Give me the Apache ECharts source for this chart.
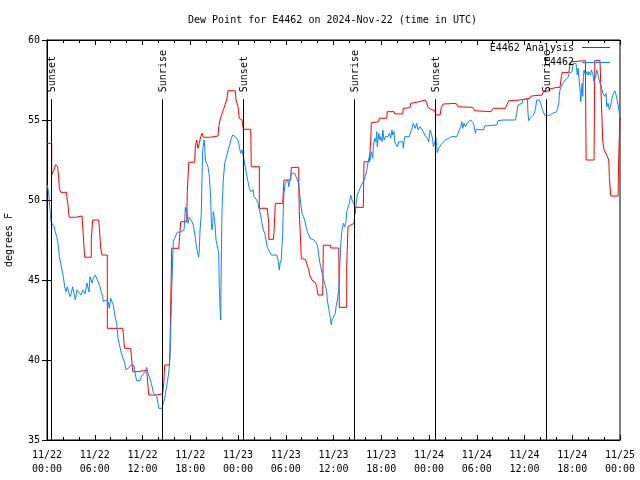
<!DOCTYPE html>
<html>
<head>
<meta charset="utf-8">
<script src="https://cdn.jsdelivr.net/npm/echarts@6/dist/echarts.min.js"></script>
<style>html,body{margin:0;padding:0;background:#fff;}#c{width:640px;height:480px;}</style>
</head>
<body>
<div id="c"></div>
<script>
var titleText = 'Dew Point for E4462 on 2024-Nov-22 (time in UTC)';
var xTickLabels = ['11/22\n00:00','11/22\n06:00','11/22\n12:00','11/22\n18:00','11/23\n00:00','11/23\n06:00','11/23\n12:00','11/23\n18:00','11/24\n00:00','11/24\n06:00','11/24\n12:00','11/24\n18:00','11/25\n00:00'];
var seriesNames = ['E4462 Analysis', 'E4462'];
var sunHours = [0.5, 14.45, 24.63, 38.58, 48.76, 62.7];
var sunLabels = ['Sunset','Sunrise','Sunset','Sunrise','Sunset','Sunrise'];

// hours since 11/22 00:00 UTC, dew point (F)
var analysisData = [[0,53.54],[0.59,53.54],[0.59,51.56],[0.72,51.67],[0.88,51.88],[1.09,52.21],[1.22,52.25],[1.34,52.08],[1.47,51.36],[1.55,50.73],[1.72,50.48],[2.48,50.48],[2.48,50.21],[2.64,49.69],[2.73,49.17],[2.80,48.92],[3.61,48.92],[3.61,49.0],[4.40,49.0],[4.49,48.33],[4.65,47.04],[4.74,46.42],[5.57,46.42],[5.57,47.56],[5.74,48.75],[6.50,48.75],[6.57,48.33],[6.75,46.98],[6.91,46.56],[7.58,46.56],[7.58,41.98],[9.51,41.98],[9.59,41.67],[9.68,41.04],[9.76,40.73],[10.52,40.73],[10.59,40.31],[10.77,39.27],[11.35,39.27],[11.52,39.36],[12.53,39.36],[12.60,38.96],[12.78,37.81],[13.70,37.81],[14.54,37.88],[14.61,37.88],[14.70,38.75],[14.79,39.69],[15.37,39.69],[15.46,40.67],[15.54,43.33],[15.67,46.98],[16.55,46.98],[16.62,47.39],[16.80,48.64],[17.55,48.64],[17.63,50.52],[17.81,52.36],[18.56,52.36],[18.64,53.33],[18.81,53.75],[18.97,53.23],[19.14,53.54],[19.31,53.96],[19.48,54.17],[19.64,53.92],[20.48,53.92],[20.65,53.96],[21.49,54.0],[21.58,54.58],[21.74,55.0],[21.99,55.11],[22.15,55.63],[22.37,55.94],[22.58,56.25],[22.75,56.83],[23.66,56.83],[23.75,56.25],[24.00,55.83],[24.16,55.11],[24.50,55.0],[24.67,54.42],[25.60,54.42],[25.67,52.08],[26.68,52.08],[26.68,49.48],[27.68,49.48],[27.86,48.54],[27.86,47.54],[28.44,47.54],[28.52,47.96],[28.69,49.79],[29.62,49.79],[29.69,50.52],[29.78,51.25],[30.62,51.25],[30.70,52.04],[31.63,52.04],[31.63,51.25],[31.70,49.27],[31.88,47.29],[31.96,46.33],[32.46,46.29],[32.63,46.04],[32.89,45.63],[33.05,45.25],[33.30,45.0],[33.72,44.83],[33.89,44.58],[34.05,44.06],[34.64,44.06],[34.72,47.17],[35.65,47.17],[35.65,47.0],[36.66,47.0],[36.73,43.29],[37.66,43.29],[37.66,45.83],[37.82,48.33],[38.58,48.54],[38.74,49.54],[39.75,49.54],[39.83,52.39],[40.50,52.39],[40.68,53.75],[40.75,54.83],[41.68,54.89],[41.75,55.11],[42.69,55.11],[42.76,55.52],[43.60,55.52],[43.69,55.38],[44.70,55.38],[44.77,55.73],[45.61,55.77],[45.70,56.04],[46.71,56.14],[46.87,56.25],[47.54,56.25],[47.72,56.04],[47.88,55.79],[48.22,55.67],[48.72,55.58],[48.88,55.31],[49.39,55.31],[49.55,55.79],[49.80,56.0],[51.40,56.04],[51.65,55.83],[53.49,55.79],[53.74,55.58],[55.83,55.52],[56.08,55.73],[57.59,55.73],[58.02,56.21],[58.85,56.21],[59.02,56.29],[60.70,56.36],[60.86,56.5],[62.20,56.56],[62.37,56.77],[62.87,56.77],[63.05,56.92],[64.05,57.04],[64.46,57.04],[64.63,57.71],[64.72,57.96],[65.56,57.96],[65.72,58.44],[65.89,58.64],[66.14,58.71],[67.65,58.71],[67.74,52.5],[68.74,52.5],[68.83,58.71],[69.49,58.71],[69.58,57.29],[69.83,53.75],[69.99,53.13],[70.33,52.81],[70.59,52.5],[70.66,51.46],[70.84,50.25],[71.76,50.25],[71.84,52.71],[72.0,55.21]];

var obsData = [[0.04,50.94],[0.21,50.42],[0.38,49.38],[0.50,48.64],[0.72,48.54],[0.88,48.33],[1.04,48.02],[1.22,47.71],[1.38,47.29],[1.55,46.46],[1.72,46.04],[1.88,45.63],[2.05,45.21],[2.22,44.58],[2.39,44.27],[2.55,44.58],[2.73,44.27],[2.89,43.96],[3.05,44.17],[3.23,44.58],[3.39,44.17],[3.56,43.75],[3.77,44.38],[4.02,44.5],[4.27,44.06],[4.52,44.38],[4.78,44.13],[5.03,44.81],[5.28,44.25],[5.40,45.21],[5.65,44.81],[5.82,45.13],[6.07,45.31],[6.25,45.19],[6.50,44.81],[6.66,44.58],[6.82,44.25],[7.00,43.96],[7.07,43.64],[7.41,43.75],[7.70,43.63],[7.83,43.23],[8.00,43.86],[8.17,43.96],[8.33,43.44],[8.51,42.81],[8.76,42.29],[8.92,41.36],[9.17,41.25],[9.34,40.42],[9.59,40.31],[9.76,39.83],[9.93,39.38],[10.18,39.42],[10.34,39.54],[10.52,39.67],[10.93,39.67],[11.10,39.06],[11.27,38.71],[11.69,38.71],[11.85,38.96],[12.10,39.06],[12.35,39.27],[12.53,39.54],[12.69,39.17],[12.86,38.96],[13.11,38.54],[13.36,37.98],[13.61,37.98],[13.79,37.71],[13.95,37.29],[14.04,36.98],[14.45,36.98],[14.61,37.29],[14.79,37.61],[14.95,38.13],[15.12,38.64],[15.29,39.17],[15.46,40.21],[15.62,43.33],[15.71,45.0],[15.87,47.39],[16.05,47.61],[16.21,47.81],[16.38,47.98],[16.55,48.02],[16.88,48.02],[17.22,48.13],[17.30,48.75],[17.38,49.54],[17.47,49.27],[17.55,49.48],[17.72,48.54],[17.88,48.92],[18.06,48.79],[18.22,48.64],[18.38,48.44],[18.56,47.92],[18.72,47.29],[18.89,46.77],[19.06,46.42],[19.14,46.88],[19.23,48.13],[19.39,49.17],[19.48,51.46],[19.57,53.13],[19.73,53.75],[19.82,53.33],[19.89,52.5],[20.07,52.29],[20.23,52.08],[20.40,51.46],[20.57,50.11],[20.65,48.54],[20.73,48.13],[20.82,48.54],[20.90,49.27],[20.99,48.96],[21.07,48.75],[21.24,47.5],[21.40,47.5],[21.58,46.67],[21.65,44.58],[21.74,43.33],[21.83,42.5],[21.90,46.25],[21.99,49.38],[22.15,51.25],[22.33,52.29],[22.49,52.61],[22.66,52.92],[22.83,53.23],[23.00,53.54],[23.16,53.86],[23.34,54.06],[23.50,54.06],[23.66,53.96],[23.84,53.86],[24.00,53.75],[24.16,53.33],[24.34,52.92],[24.50,53.13],[24.67,53.13],[24.76,52.5],[24.92,52.08],[25.09,51.56],[25.26,51.14],[25.42,50.73],[25.60,50.52],[25.76,50.42],[25.92,50.63],[26.01,50.21],[26.18,50.31],[26.35,50.0],[26.51,49.79],[26.68,49.38],[26.85,49.06],[27.02,48.54],[27.18,48.13],[27.36,47.92],[27.52,47.5],[27.68,47.04],[27.86,46.88],[28.02,46.77],[28.19,46.56],[28.86,46.56],[29.03,46.25],[29.19,45.63],[29.28,46.04],[29.44,46.25],[29.53,47.13],[29.62,47.92],[29.69,49.38],[29.78,50.42],[29.94,51.04],[30.12,51.04],[30.28,51.25],[30.37,50.83],[30.62,50.73],[30.70,51.67],[30.88,51.77],[31.13,51.67],[31.29,51.46],[31.54,51.36],[31.63,51.04],[31.70,50.63],[31.88,49.79],[32.04,49.17],[32.21,48.96],[32.38,48.75],[32.55,48.33],[32.71,48.02],[32.89,47.81],[33.05,47.61],[33.21,47.5],[33.55,47.5],[33.72,47.39],[33.89,47.29],[34.05,46.98],[34.22,46.25],[34.39,45.83],[34.56,45.42],[34.72,45.11],[34.90,44.79],[35.15,44.27],[35.22,43.75],[35.40,43.23],[35.56,42.71],[35.73,42.19],[35.81,42.5],[36.06,42.54],[36.23,42.92],[36.32,43.33],[36.48,43.75],[36.66,44.38],[36.73,45.0],[36.91,47.29],[37.07,48.13],[37.24,48.54],[37.41,48.33],[37.57,48.64],[37.66,49.27],[37.99,49.79],[38.16,50.31],[38.33,50.0],[38.49,49.89],[38.67,49.63],[38.74,49.17],[38.83,49.69],[38.99,50.31],[39.17,50.52],[39.33,50.73],[39.50,50.94],[39.75,50.94],[39.83,51.25],[40.00,51.46],[40.18,51.88],[40.34,52.39],[40.50,52.71],[40.59,52.5],[40.75,53.02],[40.93,52.61],[41.00,53.33],[41.18,53.86],[41.34,53.64],[41.43,54.27],[41.50,53.33],[41.68,54.17],[41.85,53.75],[41.93,53.96],[42.10,53.64],[42.19,54.38],[42.35,53.75],[42.51,53.96],[42.69,54.06],[42.85,53.96],[43.02,54.17],[43.19,53.86],[43.35,54.38],[43.44,54.06],[43.60,54.27],[43.69,53.64],[43.94,53.64],[44.02,53.33],[44.20,53.64],[44.70,53.64],[44.77,53.23],[44.86,53.64],[44.95,53.96],[45.52,53.96],[45.70,54.27],[45.87,54.48],[46.03,54.79],[46.21,54.89],[46.28,54.48],[46.46,54.79],[46.62,54.38],[46.79,54.27],[46.87,54.58],[47.04,54.48],[47.29,54.27],[47.46,54.06],[47.63,53.96],[47.79,53.86],[47.97,53.64],[48.13,54.38],[48.29,54.17],[48.47,53.75],[48.55,53.33],[48.72,53.44],[48.88,53.86],[48.97,53.33],[49.05,52.96],[49.22,53.23],[49.39,53.33],[49.64,53.54],[49.80,53.64],[50.05,53.75],[50.23,53.86],[50.48,53.86],[50.64,53.92],[50.89,53.96],[51.49,53.96],[51.65,54.17],[51.82,54.38],[51.99,54.58],[52.15,54.89],[52.24,54.48],[52.41,54.79],[52.57,54.58],[52.75,54.69],[52.91,54.89],[53.07,54.83],[53.25,55.0],[53.42,55.1],[53.58,54.79],[53.76,54.38],[53.83,54.17],[53.92,54.42],[54.00,54.42],[54.83,54.38],[55.00,54.63],[55.17,54.69],[56.51,54.69],[56.68,54.96],[57.34,55.0],[58.85,55.0],[59.02,55.42],[59.19,55.94],[59.35,56.04],[59.69,56.04],[59.78,56.29],[60.36,56.29],[60.44,55.42],[60.53,54.96],[60.70,55.1],[60.95,55.21],[61.11,55.31],[61.29,55.52],[61.45,55.94],[61.54,56.25],[61.87,56.25],[62.04,56.04],[62.20,55.73],[62.37,55.52],[62.54,55.29],[63.12,55.29],[63.30,55.31],[63.55,55.42],[63.80,55.46],[64.05,55.52],[64.21,55.63],[64.30,56.04],[64.38,56.56],[64.46,56.88],[64.63,57.08],[64.81,57.29],[64.97,57.39],[65.13,57.5],[65.31,57.61],[65.47,57.67],[65.63,57.92],[65.81,57.81],[65.97,58.02],[66.06,58.33],[66.14,58.54],[66.31,58.64],[66.47,58.54],[66.56,58.44],[66.64,57.81],[66.73,58.23],[66.82,58.33],[66.89,57.39],[66.98,56.88],[67.07,56.14],[67.14,56.67],[67.23,57.29],[67.32,56.48],[67.40,57.71],[67.49,58.13],[67.65,57.81],[67.82,58.02],[67.98,57.81],[68.07,58.02],[68.23,58.02],[68.32,57.81],[68.40,58.13],[68.57,57.92],[68.74,57.39],[68.83,57.81],[68.90,57.61],[69.08,58.13],[69.24,57.81],[69.40,57.71],[69.49,57.29],[69.65,57.08],[69.83,56.67],[69.99,56.77],[70.08,56.48],[70.25,56.67],[70.33,55.83],[70.50,56.04],[70.66,55.63],[70.84,55.94],[71.00,56.36],[71.17,56.67],[71.35,56.83],[71.51,56.56],[71.60,56.36],[71.76,55.94],[71.92,55.42],[72.0,55.2]];

var FONT = '"DejaVu Sans Mono", monospace';
var sunLineTop = 56.3;

var chart = echarts.init(document.getElementById('c'), null, {renderer: 'canvas'});

function axisCommon(showLabel) {
  return {
    axisLine: {show: true, lineStyle: {color: '#000', width: 1}},
    axisTick: {show: true, inside: true, length: 5, lineStyle: {color: '#000', width: 1}},
    splitLine: {show: false},
    axisLabel: {show: showLabel}
  };
}

var option = {
  animation: false,
  backgroundColor: '#fff',
  title: {
    text: titleText,
    left: 183, top: 10,
    textStyle: {fontFamily: FONT, fontSize: 10, fontWeight: 'normal', color: '#000'}
  },
  grid: {left: 47, right: 20, top: 40, bottom: 40, show: true, borderColor: '#000', borderWidth: 1,
    containLabel: false, outerBoundsMode: 'none'},
  xAxis: [
    Object.assign(axisCommon(true), {
      type: 'value', position: 'bottom', min: 0, max: 72, interval: 6,
      minorTick: {show: true, splitNumber: 3, length: 3, lineStyle: {color: '#000'}},
      axisLabel: {
        show: true, margin: 8, color: '#000', fontFamily: FONT, fontSize: 10, lineHeight: 14,
        formatter: function (v) { return xTickLabels[Math.round(v / 6)]; }
      }
    }),
    Object.assign(axisCommon(false), {
      type: 'value', position: 'top', min: 0, max: 72, interval: 6,
      minorTick: {show: true, splitNumber: 3, length: 3, lineStyle: {color: '#000'}}
    })
  ],
  yAxis: [
    Object.assign(axisCommon(true), {
      type: 'value', position: 'left', min: 35, max: 60, interval: 5,
      name: 'degrees F', nameLocation: 'middle', nameGap: 33, nameRotate: 90,
      nameTextStyle: {fontFamily: FONT, fontSize: 10, color: '#000'},
      axisLabel: {show: true, margin: 7, color: '#000', fontFamily: FONT, fontSize: 10}
    }),
    Object.assign(axisCommon(false), {
      type: 'value', position: 'right', min: 35, max: 60, interval: 5
    })
  ],
  series: [
    {
      name: seriesNames[0], type: 'line', data: analysisData, showSymbol: false, symbol: 'none',
      lineStyle: {color: '#ff0000', width: 1}, itemStyle: {color: '#ff0000'}, z: 3
    },
    {
      name: seriesNames[1], type: 'line', data: obsData, showSymbol: false, symbol: 'none',
      lineStyle: {color: '#0d86ff', width: 1}, itemStyle: {color: '#0d86ff'}, z: 4
    },
    {
      type: 'custom', z: 5, clip: false,
      data: sunHours.map(function (h, i) { return [h, i]; }),
      renderItem: function (params, api) {
        var h = api.value(0);
        var p0 = api.coord([h, 35]);
        var p1 = api.coord([h, sunLineTop]);
        var x = Math.round(p0[0]) + 0.5;
        return {
          type: 'group',
          children: [
            {type: 'line', shape: {x1: x, y1: p0[1], x2: x, y2: p1[1]}, style: {stroke: '#000', lineWidth: 1}},
            {type: 'text', x: x + 1, y: p1[1] - 7, rotation: Math.PI / 2,
              style: {text: sunLabels[params.dataIndex], fill: '#000', font: '10px ' + FONT,
                align: 'left', verticalAlign: 'middle', textAlign: 'left', textVerticalAlign: 'middle'}}
          ]
        };
      }
    }
  ],
  graphic: [
    {type: 'text', x: 574, y: 48, z: 10,
      style: {text: seriesNames[0], fill: '#000', font: '10px ' + FONT, align: 'right', verticalAlign: 'middle', textAlign: 'right', textVerticalAlign: 'middle'}},
    {type: 'line', z: 10, shape: {x1: 582, y1: 47.5, x2: 610, y2: 47.5}, style: {stroke: '#ff0000', lineWidth: 1}},
    {type: 'text', x: 574, y: 62, z: 10,
      style: {text: seriesNames[1], fill: '#000', font: '10px ' + FONT, align: 'right', verticalAlign: 'middle', textAlign: 'right', textVerticalAlign: 'middle'}},
    {type: 'line', z: 10, shape: {x1: 582, y1: 62.5, x2: 610, y2: 62.5}, style: {stroke: '#0d86ff', lineWidth: 1}}
  ]
};
chart.setOption(option);
</script>
</body>
</html>
